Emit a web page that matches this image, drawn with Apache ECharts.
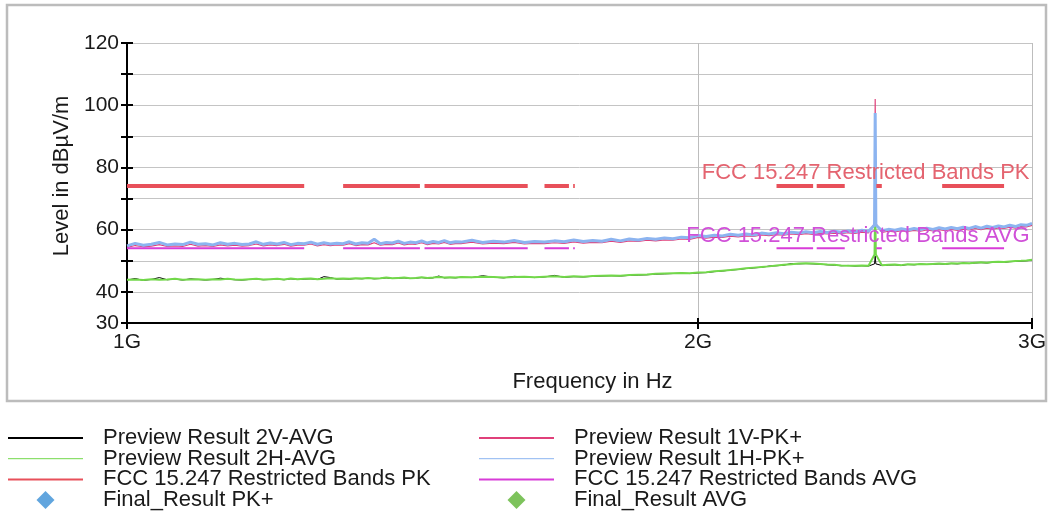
<!DOCTYPE html>
<html>
<head>
<meta charset="utf-8">
<script src="https://cdn.jsdelivr.net/npm/echarts@6/dist/echarts.min.js"></script>
<style>
html,body{margin:0;padding:0;background:#fff;}
#c{width:1064px;height:527px;}
</style>
</head>
<body>
<div id="c"></div>
<script>
// Frequency grid in GHz
const freq = [
1.00,1.01,1.02,1.03,1.04,1.05,1.06,1.07,1.08,1.09,
1.10,1.11,1.12,1.13,1.14,1.15,1.16,1.17,1.18,1.19,
1.20,1.21,1.22,1.23,1.24,1.25,1.26,1.27,1.28,1.29,
1.30,1.31,1.32,1.33,1.34,1.35,1.36,1.37,1.38,1.39,
1.40,1.41,1.42,1.43,1.44,1.45,1.46,1.47,1.48,1.49,
1.50,
1.52,1.54,1.56,1.58,1.60,1.62,1.64,1.66,1.68,1.70,
1.72,1.74,1.76,1.78,1.80,1.82,1.84,1.86,1.88,1.90,
1.92,1.94,1.96,1.98,2.00,2.02,2.04,2.06,2.08,2.10,
2.12,2.14,2.16,2.18,2.20,2.22,2.24,2.26,2.28,2.30,
2.32,2.34,2.36,2.38,2.40,2.42,2.44,2.46,
2.478,2.48,2.482,
2.50,2.52,2.54,2.56,2.58,2.60,2.62,2.64,2.66,2.68,
2.70,2.72,2.74,2.76,2.78,2.80,2.82,2.84,2.86,2.88,
2.90,2.92,2.94,2.96,2.98,3.00
];
const preview2V_AVG = [
43.8,44.3,43.7,44.0,44.6,43.9,44.1,43.8,44.2,44.0,
43.8,44.0,44.4,44.1,43.9,43.8,44.0,44.1,43.9,44.0,
44.1,43.9,44.2,44.0,44.1,44.2,44.0,44.9,44.6,44.1,
44.2,44.1,44.3,44.2,44.4,44.2,44.3,44.5,44.3,44.4,
44.5,44.3,44.4,44.6,44.4,44.5,45.1,44.5,44.6,44.5,
44.7,
44.6,45.2,44.7,44.5,45.0,44.8,44.6,44.8,45.3,44.7,
44.9,44.8,45.0,45.1,45.2,45.1,45.3,45.4,45.5,45.7,
45.8,45.9,46.0,45.9,46.1,46.2,46.5,46.7,47.0,47.2,
47.5,47.7,47.9,48.3,48.4,48.6,49.1,49.0,49.1,49.0,
48.9,48.7,48.6,48.4,48.5,48.3,48.4,48.3,
49.0,51.5,49.0,
48.5,48.6,48.7,48.5,48.8,48.7,48.9,48.8,48.9,49.0,
48.9,49.1,49.0,49.2,49.1,49.3,49.4,49.3,49.5,49.6,
49.5,49.7,49.8,49.9,50.0,50.2
];
const preview2H_AVG = [
43.9,44.0,43.8,44.1,43.9,44.0,44.2,43.9,44.0,44.1,
43.9,44.1,44.0,44.2,44.0,43.9,44.1,44.2,44.0,44.1,
44.2,44.0,44.3,44.1,44.2,44.3,44.1,44.2,44.4,44.2,
44.3,44.2,44.4,44.3,44.5,44.3,44.4,44.6,44.4,44.5,
44.6,44.4,44.5,44.7,44.5,44.6,44.8,44.6,44.7,44.6,
44.8,
44.7,44.9,44.8,44.6,44.8,44.9,44.7,44.9,45.0,44.8,
45.0,44.9,45.1,45.2,45.3,45.2,45.4,45.5,45.6,45.8,
45.9,46.0,46.1,46.0,46.2,46.3,46.6,46.8,47.0,47.3,
47.6,47.8,48.0,48.2,48.5,48.7,48.9,49.1,49.2,49.1,
49.0,48.8,48.7,48.5,48.4,48.4,48.5,48.4,
52.0,68.0,52.0,
48.6,48.7,48.8,48.6,48.9,48.8,49.0,48.9,49.0,49.1,
49.0,49.2,49.1,49.3,49.2,49.4,49.5,49.4,49.6,49.7,
49.6,49.8,49.9,50.0,50.1,50.3
];
const preview1V_PK = [
54.3,54.9,54.5,54.7,55.2,54.6,54.8,54.6,55.3,54.7,
54.9,54.6,55.1,54.8,55.0,54.7,54.9,55.4,54.8,55.1,
54.9,55.3,54.7,55.0,55.0,55.4,54.8,55.2,54.9,55.1,
55.0,55.5,54.9,55.2,55.1,55.8,55.0,55.3,55.2,55.7,
55.1,55.4,55.3,55.8,55.2,55.6,55.4,55.9,55.3,55.5,
55.5,
56.0,55.4,55.7,55.5,55.9,55.4,55.6,55.5,55.8,55.6,
56.1,55.7,55.9,55.8,56.3,55.9,56.4,56.2,56.6,56.4,
56.7,56.6,57.0,56.9,57.5,57.3,57.6,57.5,57.9,57.7,
58.0,57.8,58.3,58.1,58.4,58.2,58.6,58.4,58.7,58.5,
58.8,58.6,58.9,58.7,59.0,58.8,59.2,59.0,
62.0,102.0,62.0,
59.1,59.5,59.3,59.7,59.4,59.8,59.5,59.9,59.6,60.0,
59.7,60.1,59.8,60.2,59.9,60.4,60.0,60.5,60.2,60.6,
60.4,60.8,60.5,61.0,60.9,61.4
];
const preview1H_PK = [
54.8,55.6,55.0,55.3,55.9,55.1,55.4,55.2,56.0,55.3,
55.5,55.1,55.8,55.3,55.6,55.2,55.4,56.1,55.3,55.7,
55.4,55.9,55.2,55.6,55.5,56.0,55.3,55.8,55.4,55.6,
55.5,56.1,55.4,55.8,55.6,56.9,55.5,55.9,55.7,56.3,
55.6,56.0,55.8,56.4,55.7,56.2,55.9,56.5,55.8,56.1,
56.0,
56.6,55.9,56.3,56.0,56.5,55.9,56.2,56.0,56.4,56.1,
56.7,56.2,56.5,56.3,56.9,56.4,57.0,56.7,57.2,56.9,
57.3,57.1,57.6,57.4,58.1,57.8,58.2,58.0,58.5,58.2,
58.6,58.3,58.9,58.6,59.0,58.7,59.2,58.9,59.3,59.0,
59.4,59.1,59.5,59.2,59.6,59.3,59.8,59.5,
61.5,97.5,61.5,
59.7,60.1,59.8,60.3,59.9,60.4,60.0,60.5,60.1,60.6,
60.2,60.7,60.3,60.8,60.4,61.0,60.5,61.1,60.7,61.2,
60.9,61.4,61.0,61.6,61.4,62.0
];
// FCC 15.205 restricted bands (GHz) and limits (dBµV/m)
const bandStart = [1.00,1.30,1.435,1.6455,1.66,1.7188,2.20,2.31,2.4835,2.69];
const bandEnd   = [1.24,1.427,1.6265,1.6465,1.71,1.7222,2.30,2.39,2.50,2.90];
const limitPK = 74;
const limitAVG = 54;
const finalPK = [];
const finalAVG = [];
const yLabels = [30,40,60,80,100,120];
const xLabels = [1,2,3];

function pairs(xs, ys){ return xs.map((x,i)=>[x, ys[i]]); }
function bandLine(level){
  const d = [];
  bandStart.forEach((s,i)=>{ d.push([s,level]); d.push([bandEnd[i],level]); d.push([bandEnd[i],'-']); });
  return d;
}

const C = {
  v2:'#000000', h2:'#72d84a', v1:'#e0407a', h1:'#8cb4f0',
  pk:'#e8505a', avg:'#d83cd8', fpk:'#3a8fd6', favg:'#5db433'
};
const FONT = 'Liberation Sans, Arial, sans-serif';
// legend diamond centered in the legend item box
const DIAMOND = 'path://M0,0M75,18M37.5,0L46.5,9L37.5,18L28.5,9Z';
const chart = echarts.init(document.getElementById('c'), null, {renderer:'canvas'});
const noSym = {opacity:0};
const legendCommon = {
  orient:'vertical', itemWidth:75, itemHeight:18, itemGap:-1.3, padding:0, selectedMode:false,
  textStyle:{fontFamily:FONT, fontSize:22, lineHeight:20, color:'#1a1a1a', padding:[0,0,0,15]}
};
chart.setOption({
  animation:false,
  backgroundColor:'#ffffff',
  graphic:[{type:'rect', shape:{x:7,y:5,width:1039,height:396}, style:{fill:'none', stroke:'#bcbcbc', lineWidth:2.5}, silent:true, z:-1}],
  grid:{left:127, right:32, top:43, bottom:204},
  xAxis:[{
    type:'log', logBase:10, min:1, max:3,
    name:'Frequency in Hz', nameLocation:'middle', nameGap:48,
    nameTextStyle:{fontFamily:FONT, fontSize:22, color:'#1a1a1a', padding:[0,0,0,26]},
    axisLine:{show:true, onZero:false, lineStyle:{color:'#000', width:2}},
    axisTick:{show:true, length:6, customValues:xLabels, lineStyle:{color:'#000', width:2}},
    axisLabel:{customValues:xLabels, formatter:v=>Math.round(v)+'G', fontFamily:FONT, fontSize:21, color:'#1a1a1a', margin:9},
    splitLine:{show:true, lineStyle:{color:'#bdbdbd', width:1}},
    minorTick:{show:false}, minorSplitLine:{show:false}
  },{
    type:'log', logBase:10, min:1, max:3, position:'bottom',
    axisLine:{show:false}, axisLabel:{show:false, customValues:xLabels}, splitLine:{show:false},
    axisTick:{show:true, inside:true, length:5, customValues:xLabels, lineStyle:{color:'#000', width:2}}
  }],
  yAxis:[{
    type:'value', min:30, max:120, interval:10,
    name:'Level in dBµV/m', nameLocation:'middle', nameGap:52, nameRotate:90,
    nameTextStyle:{fontFamily:FONT, fontSize:22, color:'#1a1a1a', padding:[0,0,0,14]},
    axisLine:{show:true, lineStyle:{color:'#000', width:2}},
    axisTick:{show:true, length:6, lineStyle:{color:'#000', width:2}},
    axisLabel:{formatter:v=>yLabels.indexOf(v)>=0?String(v):'', fontFamily:FONT, fontSize:21, color:'#1a1a1a', margin:8},
    splitLine:{show:true, lineStyle:{color:'#c4c4c4', width:1}}
  },{
    type:'value', min:30, max:120, interval:10, position:'left',
    axisLine:{show:false}, axisLabel:{show:false}, splitLine:{show:false},
    axisTick:{show:true, inside:true, length:6, lineStyle:{color:'#000', width:2}}
  }],
  legend:[
    Object.assign({left:7, top:427, data:[
      {name:'Preview Result 2V-AVG', itemStyle:noSym},
      {name:'Preview Result 2H-AVG', itemStyle:noSym, lineStyle:{color:C.h2, width:1}},
      {name:'FCC 15.247 Restricted Bands PK', itemStyle:noSym},
      {name:'Final_Result PK+', icon:DIAMOND}
    ]}, legendCommon),
    Object.assign({left:478, top:427, data:[
      {name:'Preview Result 1V-PK+', itemStyle:noSym},
      {name:'Preview Result 1H-PK+', itemStyle:noSym, lineStyle:{color:C.h1, width:1}},
      {name:'FCC 15.247 Restricted Bands AVG', itemStyle:noSym},
      {name:'Final_Result AVG', icon:DIAMOND}
    ]}, legendCommon)
  ],
  series:[
    {name:'Preview Result 2V-AVG', type:'line', data:pairs(freq, preview2V_AVG), symbol:'none', lineStyle:{color:C.v2, width:1}, itemStyle:{color:C.v2}},
    {name:'Preview Result 2H-AVG', type:'line', data:pairs(freq, preview2H_AVG), symbol:'none', lineStyle:{color:C.h2, width:2}, itemStyle:{color:C.h2}},
    {name:'Preview Result 1V-PK+', type:'line', data:pairs(freq, preview1V_PK), symbol:'none', lineStyle:{color:C.v1, width:1.2}, itemStyle:{color:C.v1}},
    {name:'Preview Result 1H-PK+', type:'line', data:pairs(freq, preview1H_PK), symbol:'none', lineStyle:{color:C.h1, width:3}, itemStyle:{color:C.h1}},
    {name:'FCC 15.247 Restricted Bands PK', type:'line', data:bandLine(limitPK), symbol:'none', connectNulls:false,
      lineStyle:{color:C.pk, width:4}, itemStyle:{color:C.pk},
      markPoint:{symbol:'circle', symbolSize:1, itemStyle:{color:'rgba(0,0,0,0)'}, data:[{coord:[3,limitPK]}],
        label:{show:true, position:'left', distance:2, offset:[0,-13], formatter:'FCC 15.247 Restricted Bands PK', fontFamily:FONT, fontSize:22, color:'#e46470'}}},
    {name:'FCC 15.247 Restricted Bands AVG', type:'line', data:bandLine(limitAVG), symbol:'none', connectNulls:false,
      lineStyle:{color:C.avg, width:2}, itemStyle:{color:C.avg},
      markPoint:{symbol:'circle', symbolSize:1, itemStyle:{color:'rgba(0,0,0,0)'}, data:[{coord:[3,limitAVG]}],
        label:{show:true, position:'left', distance:2, offset:[0,-12], formatter:'FCC 15.247 Restricted Bands AVG', fontFamily:FONT, fontSize:22, color:'#d050d8'}}},
    {name:'Final_Result PK+', type:'scatter', data:finalPK, symbol:'diamond', symbolSize:12, itemStyle:{color:C.fpk}},
    {name:'Final_Result AVG', type:'scatter', data:finalAVG, symbol:'diamond', symbolSize:12, itemStyle:{color:C.favg}}
  ]
});
</script>
</body>
</html>
